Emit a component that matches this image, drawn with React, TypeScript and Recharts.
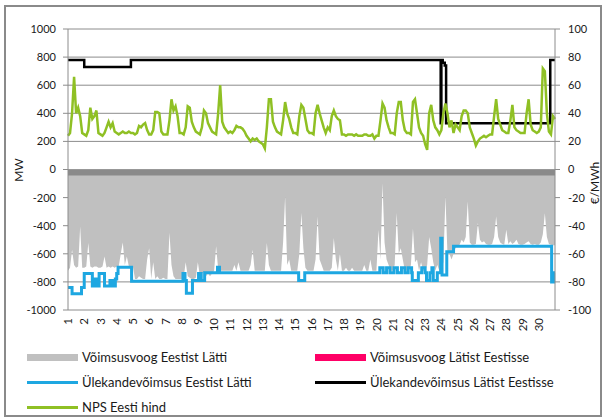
import { ComposedChart, Area, Line, XAxis, YAxis, CartesianGrid, ReferenceArea } from "recharts";

// päevad (x-telje sildid), tunnid 0..720
const dayLabels = ["1","2","3","4","5","6","7","8","9","10","11","12","13","14","15","16","17","18","19","20","21","22","23","24","25","26","27","28","29","30"];
const dayTicks = dayLabels.map((_, i) => i * 24);
const sampleHours = [0, 3, 6, 9, 12, 15, 18, 21];

const mwTicks = [-1000, -800, -600, -400, -200, 0, 200, 400, 600, 800, 1000];
const eurTicks = [-100, -80, -60, -40, -20, 0, 20, 40, 60, 80, 100];

// NPS Eesti hind, €/MWh (iga 3 tunni järel)
const priceByDay = [
  [24, 26, 40, 66, 40, 44, 38, 26],
  [25, 24, 28, 44, 36, 38, 42, 26],
  [25, 24, 26, 30, 34, 30, 33, 27],
  [26, 25, 26, 27, 26, 26, 27, 26],
  [26, 25, 26, 31, 30, 32, 33, 28],
  [25, 25, 28, 41, 41, 40, 27, 25],
  [25, 25, 35, 50, 42, 45, 38, 26],
  [26, 25, 30, 45, 44, 34, 30, 27],
  [26, 25, 30, 42, 40, 33, 30, 27],
  [26, 25, 40, 60, 34, 30, 28, 26],
  [27, 26, 28, 31, 30, 30, 29, 27],
  [24, 22, 20, 22, 21, 22, 20, 19],
  [18, 15, 30, 50, 50, 34, 30, 27],
  [26, 25, 35, 48, 40, 36, 30, 26],
  [26, 25, 38, 46, 44, 36, 28, 26],
  [26, 25, 40, 46, 40, 35, 30, 26],
  [30, 28, 38, 42, 38, 36, 35, 25],
  [25, 24, 25, 25, 25, 24, 25, 24],
  [24, 24, 25, 25, 24, 24, 25, 22],
  [24, 24, 35, 47, 44, 35, 30, 26],
  [26, 25, 40, 48, 48, 35, 28, 26],
  [26, 25, 48, 50, 40, 30, 26, 24],
  [18, 14, 40, 46, 35, 30, 28, 25],
  [28, 40, 47, 40, 30, 35, 26, 32],
  [30, 28, 38, 42, 42, 40, 30, 26],
  [22, 17, 20, 22, 23, 24, 23, 24],
  [25, 25, 38, 50, 36, 32, 28, 27],
  [26, 26, 35, 46, 30, 28, 27, 26],
  [26, 26, 40, 50, 32, 28, 27, 26],
  [27, 30, 72, 70, 40, 27, 25, 38],
];
const priceLast = 36;

// Võimsusvoog Eestist Lätti, MW (negatiivne)
const flowByDay = [
  [-720, -700, -571, -680, -700, -690, -405, -700],
  [-700, -690, -523, -690, -700, -690, -690, -700],
  [-700, -690, -620, -700, -690, -700, -690, -700],
  [-690, -690, -600, -520, -680, -620, -690, -690],
  [-690, -780, -780, -760, -770, -780, -780, -640],
  [-560, -780, -660, -780, -760, -780, -780, -770],
  [-780, -780, -451, -680, -760, -780, -780, -780],
  [-780, -770, -660, -760, -770, -780, -780, -770],
  [-660, -760, -740, -730, -760, -740, -760, -740],
  [-720, -547, -710, -720, -720, -720, -720, -720],
  [-720, -720, -680, -720, -660, -720, -720, -720],
  [-720, -720, -680, -571, -720, -720, -720, -720],
  [-720, -720, -523, -680, -720, -720, -720, -720],
  [-720, -720, -520, -193, -680, -640, -720, -720],
  [-720, -720, -600, -310, -560, -700, -720, -720],
  [-720, -720, -640, -334, -640, -680, -720, -720],
  [-720, -720, -700, -488, -640, -720, -600, -720],
  [-720, -700, -720, -720, -700, -720, -720, -720],
  [-720, -720, -680, -720, -720, -640, -720, -720],
  [-720, -430, -640, -98, -520, -640, -680, -720],
  [-720, -680, -310, -600, -560, -640, -720, -720],
  [-720, -680, -420, -660, -640, -720, -660, -720],
  [-720, -680, -480, -560, -660, -720, -680, -720],
  [-720, -660, -193, -600, -600, -640, -600, -560],
  [-540, -535, -500, -520, -480, -228, -520, -535],
  [-535, -530, -380, -500, -520, -510, -530, -535],
  [-535, -530, -480, -334, -480, -520, -530, -535],
  [-429, -530, -510, -530, -520, -500, -530, -535],
  [-535, -530, -520, -510, -530, -535, -530, -535],
  [-535, -520, -460, -311, -480, -530, -535, -540],
];
const flowLast = -540;

// Võimsusvoog Lätist Eestisse, MW
const flowLvEe: [number, number][] = [[0, 0], [720, 0]];

// Ülekandevõimsus Eestist Lätti, [tund, MW]
const capEeLv: [number, number][] = [
  [0, -840], [6, -885], [20, -840], [24, -740], [36, -830], [39, -780], [42, -830], [46, -740],
  [54, -830], [60, -830], [62, -790], [66, -830], [70, -780], [72, -740], [74, -695], [94, -795],
  [170, -740], [173, -790], [175, -880], [184, -790], [193, -740], [197, -790], [202, -735],
  [221, -695], [224, -735], [341, -790], [350, -735], [461, -700], [466, -735], [471, -700],
  [476, -735], [482, -700], [487, -735], [493, -700], [498, -735], [503, -700], [508, -735],
  [509, -790], [518, -735], [523, -700], [528, -735], [530, -790], [535, -735], [538, -700],
  [540, -790], [546, -735], [551, -490], [553, -750], [560, -585], [570, -547], [715, -800],
  [718, -735], [720, -735],
];

// Ülekandevõimsus Lätist Eestisse, [tund, MW]
const capLvEe: [number, number][] = [
  [0, 780], [24, 730], [93, 780], [551, 330], [552, 780], [554, 760], [557, 740], [559, 330],
  [713, 780], [720, 780],
];

const priceData = [
  ...priceByDay.flatMap((vals, d) => vals.map((v, i) => ({ h: d * 24 + sampleHours[i], v }))),
  { h: 720, v: priceLast },
];
const flowData = [
  ...flowByDay.flatMap((vals, d) => vals.map((v, i) => ({ h: d * 24 + sampleHours[i], v }))),
  { h: 720, v: flowLast },
];
const toPoints = (arr: [number, number][]) => arr.map(([h, v]) => ({ h, v }));

const FONT = "Lato, 'Open Sans', sans-serif";
const GRID = "#8c8c8c";

const DayTick = (props: any) => {
  const { x, y, payload } = props;
  const label = dayLabels[Math.round(payload.value / 24)];
  return (
    <text
      x={x}
      y={y}
      transform={`rotate(-90 ${x} ${y})`}
      textAnchor="end"
      dy="0.36em"
      fontSize={11.5}
      fontFamily={FONT}
      fill="#1a1a1a"
    >
      {label}
    </text>
  );
};

const legendText: React.CSSProperties = {
  position: "absolute",
  fontSize: 13,
  color: "#1a1a1a",
  whiteSpace: "nowrap",
  lineHeight: "16px",
};

function LegendItem({ left, top, color, thick, label }: { left: number; top: number; color: string; thick: number; label: string }) {
  return (
    <>
      <div style={{ position: "absolute", left, top: top - thick / 2, width: 51, height: thick, background: color }} />
      <div style={{ ...legendText, left: left + 55, top: top - 8 }}>{label}</div>
    </>
  );
}

export default function App() {
  return (
    <div style={{ position: "absolute", left: 0, top: 0, width: 606, height: 419, background: "#fff", fontFamily: FONT, overflow: "hidden" }}>
      <div style={{ position: "absolute", left: 4, top: 5, width: 594, height: 408, border: "2px solid #8a8a8a" }} />
      <div style={{ position: "absolute", left: 0, top: 0 }}>
        <ComposedChart width={606} height={419} margin={{ top: 29, right: 20, bottom: 79, left: 20 }}>
          <CartesianGrid yAxisId="mw" vertical={false} stroke={GRID} strokeWidth={1} />
          <XAxis
            dataKey="h"
            type="number"
            domain={[0, 720]}
            ticks={dayTicks}
            interval={0}
            allowDuplicatedCategory={false}
            axisLine={false}
            tickLine={false}
            tickSize={0}
            tickMargin={8}
            height={30}
            tick={<DayTick />}
          />
          <YAxis
            yAxisId="mw"
            domain={[-1000, 1000]}
            ticks={mwTicks}
            interval={0}
            width={48}
            axisLine={{ stroke: GRID }}
            tickLine={{ stroke: GRID }}
            tickSize={5}
            tickMargin={7}
            tick={{ fontSize: 11, fill: "#1a1a1a", fontFamily: FONT }}
          />
          <YAxis
            yAxisId="eur"
            orientation="right"
            domain={[-100, 100]}
            ticks={eurTicks}
            interval={0}
            width={31}
            axisLine={{ stroke: GRID }}
            tickLine={{ stroke: GRID }}
            tickSize={5}
            tickMargin={8}
            tick={{ fontSize: 11, fill: "#1a1a1a", fontFamily: FONT, textAnchor: "start" }}
          />
          <Area
            yAxisId="mw"
            data={flowData}
            dataKey="v"
            name="Võimsusvoog Eestist Lätti"
            type="linear"
            baseValue={0}
            fill="#c0c0c0"
            fillOpacity={1}
            stroke="none"
            isAnimationActive={false}
          />
          <Area
            yAxisId="mw"
            data={toPoints(flowLvEe)}
            dataKey="v"
            name="Võimsusvoog Lätist Eestisse"
            type="linear"
            baseValue={0}
            fill="#ff0066"
            fillOpacity={1}
            stroke="none"
            isAnimationActive={false}
          />
          <ReferenceArea yAxisId="mw" y1={-42} y2={0} fill="#8a8a8a" fillOpacity={1} stroke="none" />
          <Line
            yAxisId="mw"
            data={toPoints(capEeLv)}
            dataKey="v"
            name="Ülekandevõimsus Eestist Lätti"
            type="stepAfter"
            stroke="#1ea7e1"
            strokeWidth={3}
            dot={false}
            activeDot={false}
            isAnimationActive={false}
          />
          <Line
            yAxisId="mw"
            data={toPoints(capLvEe)}
            dataKey="v"
            name="Ülekandevõimsus Lätist Eestisse"
            type="stepAfter"
            stroke="#000000"
            strokeWidth={2.5}
            dot={false}
            activeDot={false}
            isAnimationActive={false}
          />
          <Line
            yAxisId="eur"
            data={priceData}
            dataKey="v"
            name="NPS Eesti hind"
            type="linear"
            stroke="#8fc024"
            strokeWidth={2.5}
            dot={false}
            activeDot={false}
            isAnimationActive={false}
          />
        </ComposedChart>
      </div>
      <div style={{ position: "absolute", left: 18, top: 170, transform: "translate(-50%, -50%) rotate(-90deg)", fontSize: 12, color: "#1a1a1a" }}>MW</div>
      <div style={{ position: "absolute", left: 594, top: 183, transform: "translate(-50%, -50%) rotate(-90deg)", fontSize: 12, color: "#1a1a1a", whiteSpace: "nowrap" }}>€/MWh</div>
      <LegendItem left={27} top={357} color="#c0c0c0" thick={7} label="Võimsusvoog Eestist Lätti" />
      <LegendItem left={315} top={357} color="#ff0066" thick={7} label="Võimsusvoog Lätist Eestisse" />
      <LegendItem left={27} top={382} color="#1ea7e1" thick={3} label="Ülekandevõimsus Eestist Lätti" />
      <LegendItem left={315} top={382} color="#000000" thick={3} label="Ülekandevõimsus Lätist Eestisse" />
      <LegendItem left={27} top={407} color="#8fc024" thick={3} label="NPS Eesti hind" />
    </div>
  );
}
